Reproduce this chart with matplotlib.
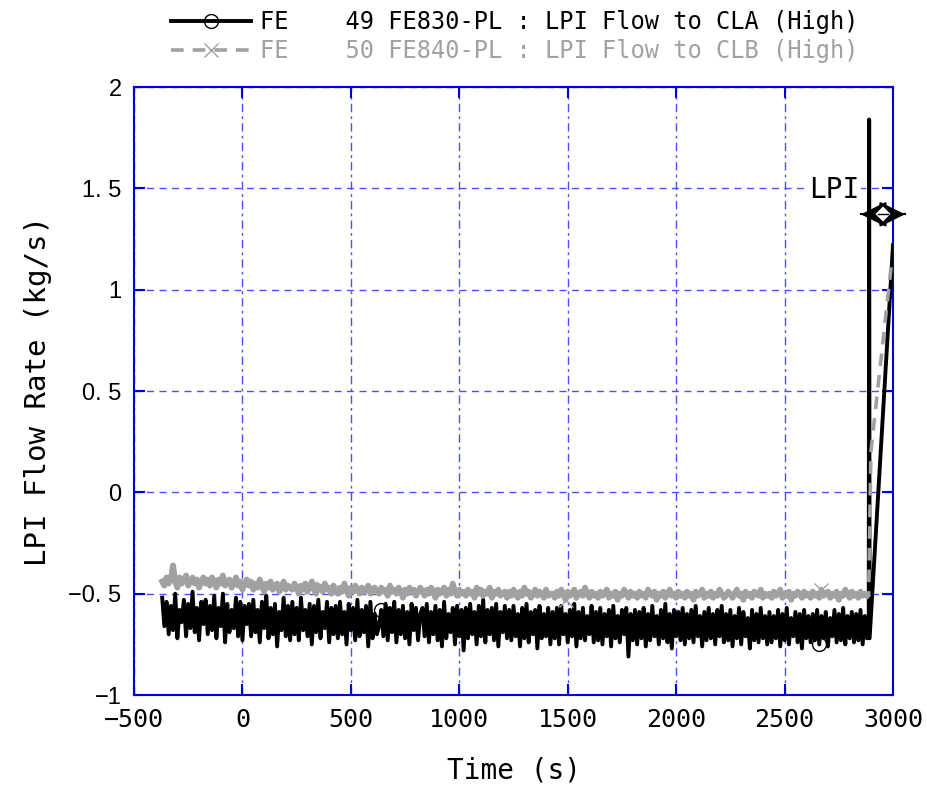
import numpy as np
import matplotlib
matplotlib.use('Agg')
import matplotlib.pyplot as plt

# ---------------- data (kg/s values in hundredths) ----------------
t_start = -370
t_step = 10

black_vals = [
    -52, -66, -54, -70, -56, -68, -50, -72, -58, -64, -53, -71, -55, -67, -49, -69, -57, -73, -54, -65,
    -53, -70, -56, -68, -51, -72, -57, -66, -50, -74, -55, -69, -58, -67, -52, -71, -54, -73, -56, -65,
    -55, -71, -53, -69, -58, -74, -54, -67, -51, -72, -57, -70, -55, -76, -59, -68, -52, -71, -56, -73,
    -54, -70, -57, -73, -52, -68, -58, -71, -55, -75, -56, -69, -53, -72, -59, -67, -54, -74, -57, -70,
    -56, -72, -54, -70, -59, -75, -55, -68, -57, -73, -53, -71, -58, -69, -56, -76, -54, -72, -60, -70,
    -66, -58, -71, -55, -73, -57, -69, -54, -74, -58, -70, -56, -72, -59, -75, -55, -68, -57, -73, -60,
    -57, -71, -55, -74, -59, -70, -56, -73, -58, -76, -54, -72, -60, -69, -57, -75, -56, -71, -58, -78,
    -57, -72, -55, -70, -59, -75, -56, -71, -53, -74, -58, -70, -57, -73, -55, -76, -59, -69, -56, -72,
    -58, -73, -56, -71, -60, -76, -57, -72, -55, -74, -59, -70, -58, -77, -56, -72, -60, -71, -57, -75,
    -59, -72, -57, -75, -56, -70, -60, -74, -58, -71, -55, -76, -59, -72, -57, -73, -61, -70, -56, -74,
    -59, -73, -57, -75, -60, -71, -58, -76, -56, -72, -61, -74, -58, -70, -57, -81, -60, -73, -58, -75,
    -59, -72, -57, -76, -60, -73, -56, -71, -61, -75, -58, -72, -55, -74, -60, -77, -58, -71, -59, -73,
    -57, -75, -60, -72, -58, -74, -56, -71, -61, -76, -59, -73, -57, -72, -60, -75, -58, -71, -56, -74,
    -60, -73, -58, -76, -61, -72, -57, -75, -59, -71, -62, -77, -58, -73, -60, -74, -57, -72, -61, -75,
    -59, -74, -61, -72, -58, -76, -60, -73, -57, -75, -62, -71, -59, -74, -60, -77, -58, -72, -61, -74,
    -60, -73, -58, -75, -61, -72, -59, -76, -62, -71, -58, -74, -60, -73, -57, -75, -61, -72, -59, -74,
    -60, -73, -58, -75, -61, -72,
]

gray_vals = [
    -44, -46, -42, -45, -43, -36, -44, -47, -42, -45, -43, -41, -46, -44, -42, -45, -43, -47, -44, -42,
    -45, -43, -46, -42, -44, -47, -43, -45, -41, -46, -44, -43, -47, -45, -42, -46, -44, -48, -45, -43,
    -46, -44, -48, -45, -47, -43, -46, -49, -45, -47, -44, -48, -46, -45, -49, -47, -44, -48, -46, -47,
    -48, -45, -47, -50, -46, -48, -45, -49, -47, -44, -48, -50, -46, -47, -49, -45, -48, -47, -50, -46,
    -48, -50, -47, -49, -45, -48, -51, -47, -49, -46, -48, -50, -47, -49, -48, -46, -50, -48, -47, -49,
    -50, -47, -49, -48, -51, -46, -49, -48, -50, -47, -49, -52, -48, -50, -47, -49, -48, -51, -49, -47,
    -49, -51, -48, -50, -47, -49, -52, -48, -50, -49, -47, -51, -48, -50, -45, -49, -51, -48, -50, -49,
    -51, -48, -50, -49, -52, -47, -50, -48, -51, -49, -50, -47, -52, -49, -50, -48, -51, -50, -49, -52,
    -49, -51, -48, -50, -52, -49, -51, -47, -50, -49, -52, -50, -48, -51, -49, -50, -52, -48, -51, -50,
    -50, -52, -49, -51, -48, -50, -53, -49, -51, -50, -48, -52, -50, -49, -51, -47, -50, -52, -49, -51,
    -50, -52, -49, -51, -50, -48, -52, -50, -51, -49, -53, -50, -51, -48, -50, -52, -49, -51, -50, -52,
    -49, -51, -50, -52, -48, -50, -51, -49, -53, -50, -51, -49, -52, -50, -48, -51, -50, -52, -49, -51,
    -50, -52, -49, -51, -50, -53, -49, -51, -50, -48, -52, -50, -51, -49, -52, -50, -51, -48, -50, -52,
    -51, -49, -50, -52, -50, -48, -51, -50, -53, -49, -51, -50, -52, -49, -50, -51, -48, -52, -50, -51,
    -50, -52, -49, -51, -50, -48, -52, -50, -51, -49, -53, -50, -51, -49, -50, -52, -49, -51, -50, -52,
    -49, -51, -50, -52, -48, -51, -50, -49, -52, -50, -51, -49, -53, -50, -51, -48, -50, -52, -49, -51,
    -50, -52, -49, -51, -50, -51,
]

# LPI injection transient (s, kg/s)
black_tail_t = [2888, 2890, 2892, 3000]
black_tail = [-0.68, 1.84, -0.72, 1.22]
gray_tail_t = [2888, 2898, 2995]
gray_tail = [-0.50, 0.20, 1.15]

black_marker_idx = [101, 303]
gray_marker_idx = [68, 186, 304]

x_ticks = [-500, 0, 500, 1000, 1500, 2000, 2500, 3000]
x_tick_labels = ['−500', '0', '500', '1000', '1500', '2000', '2500', '3000']
y_ticks = [-1, -0.5, 0, 0.5, 1, 1.5, 2]
y_tick_labels = ['−1', '−0. 5', '0', '0. 5', '1', '1. 5', '2']

legend_labels = ['FE    49 FE830-PL : LPI Flow to CLA (High)',
                 'FE    50 FE840-PL : LPI Flow to CLB (High)']
x_label = 'Time (s)'
y_label = 'LPI Flow Rate (kg/s)'
lpi_text = 'LPI'
lpi_start, lpi_end, lpi_y = 2852, 3055, 1.372

# ---------------- figure ----------------
mono = ['DejaVu Sans Mono']
narrow = ['Liberation Sans Narrow', 'DejaVu Sans Mono']
BLUE = (0.0, 0.0, 0.85)
GRID = (0.3, 0.3, 1.0)
GRAY = (0.63, 0.63, 0.63)

fig = plt.figure(figsize=(9.28, 7.85), dpi=100)
ax = fig.add_axes([0.1444, 0.1146, 0.8179, 0.7745])

time = np.arange(len(black_vals)) * t_step + t_start
bx = np.concatenate([time, black_tail_t])
by = np.concatenate([np.array(black_vals) / 100.0, black_tail])
gx = np.concatenate([time, gray_tail_t])
gy = np.concatenate([np.array(gray_vals) / 100.0, gray_tail])
n = len(time)

l1, = ax.plot(bx, by, color='black', lw=2.8, marker='o', ms=10, mfc='none',
              mec='black', mew=1.0, markevery=black_marker_idx, zorder=3)
# dense measured noise of series 2 renders as a solid band
ax.plot(gx[:n], gy[:n], color=GRAY, lw=4.2, zorder=4)
l2, = ax.plot(gx, gy, color=GRAY, lw=2.6, ls=(0, (3.5, 2.5)), marker='x', ms=10,
              mec=GRAY, mew=1.0, markevery=gray_marker_idx, zorder=4)

ax.set_xlim(-500, 3000)
ax.set_ylim(-1, 2)
ax.set_xticks(x_ticks)
ax.set_xticklabels(x_tick_labels, family=narrow, fontsize=18)
ax.set_yticks(y_ticks)
ax.set_yticklabels(y_tick_labels, family=['Liberation Sans'], fontsize=17)
ax.tick_params(axis='both', direction='in', length=8, width=1.5, color=BLUE,
               top=True, right=True, pad=9)

for s in ax.spines.values():
    s.set_color(BLUE)
    s.set_linewidth(1.5)

ax.yaxis.grid(True, color=GRID, ls=(0, (5, 4)), lw=1.0)
ax.xaxis.grid(True, color=GRID, ls=(0, (6, 3, 2, 3)), lw=1.0)
ax.set_axisbelow(True)

ax.set_xlabel(x_label, family=mono, fontsize=20, labelpad=18)
ax.set_ylabel(y_label, family=mono, fontsize=21, labelpad=12)

# LPI annotation
ax.text(2730, 1.49, lpi_text, family=mono, fontsize=20, ha='center', va='center',
        bbox=dict(facecolor='white', edgecolor='none', pad=1), zorder=5)
mid = (lpi_start + lpi_end) / 2
ax.plot([lpi_start, lpi_end], [lpi_y, lpi_y], color='black', lw=1.5, clip_on=False, zorder=6)
for end in (lpi_start, lpi_end):
    ax.annotate('', xy=(end, lpi_y), xytext=(mid, lpi_y), annotation_clip=False,
                arrowprops=dict(arrowstyle='-|>,head_length=0.8,head_width=0.4',
                                mutation_scale=20, color='black', lw=1.5, shrinkA=0, shrinkB=0),
                zorder=6)
ax.plot([mid], [lpi_y], marker='D', ms=9, mfc='white', mec='black', mew=1.5,
        clip_on=False, zorder=7)
ax.plot([mid - 25, mid + 25], [lpi_y, lpi_y], color='black', lw=1.0, clip_on=False, zorder=8)

leg = fig.legend([l1, l2], legend_labels, loc='upper left', bbox_to_anchor=(0.169, 1.005),
                 frameon=False, prop={'family': mono, 'size': 17}, handlelength=3.4,
                 handletextpad=0.35, labelspacing=0.2, borderaxespad=0.2)
for txt, c in zip(leg.get_texts(), ['black', GRAY]):
    txt.set_color(c)

fig.savefig('out.png', dpi=100)
